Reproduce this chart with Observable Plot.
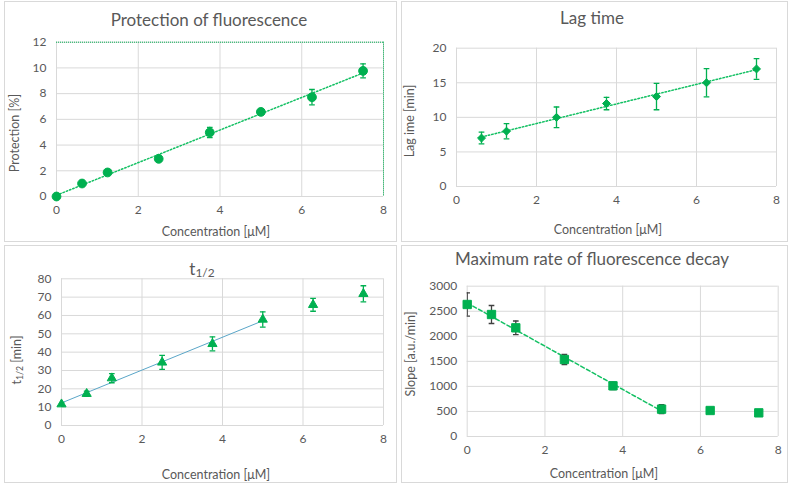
<!DOCTYPE html>
<html>
<head>
<meta charset="utf-8">
<script src="https://cdn.jsdelivr.net/npm/d3@7"></script>
<script src="https://cdn.jsdelivr.net/npm/@observablehq/plot@0.6"></script>
<style>
  body { margin: 0; background: #fff; }
  #chart { position: relative; width: 793px; height: 488px; overflow: hidden;
           font-family: Lato, "Open Sans", sans-serif; color: #595959; background: #fff; }
  .box { position: absolute; border: 1px solid #d9d9d9; box-sizing: border-box; }
  .plot { position: absolute; }
  .txt { position: absolute; white-space: nowrap; transform: translate(-50%, -50%); line-height: 1; }
  .title { font-size: 17px; }
  .lab { font-size: 12.5px; }
  .ylab { transform: translate(-50%, -50%) rotate(-90deg); }
  sub { font-size: 0.7em; vertical-align: -0.25em; line-height: 0; }
</style>
</head>
<body>
<div id="chart"></div>
<script>
// Concentrations tested [µM]
const conc = [0, 0.625, 1.25, 2.5, 3.75, 5, 6.25, 7.5];
const lagConc = [0.625, 1.25, 2.5, 3.75, 5, 6.25, 7.5];

// Protection of fluorescence [%] with standard deviations
const protection = [0, 1.01, 1.87, 2.93, 4.98, 6.58, 7.72, 9.77];
const protectionErr = [0.1, 0.1, 0.1, 0.12, 0.4, 0.1, 0.6, 0.55];

// Lag time [min]
const lagTime = [7, 8, 10, 12, 13, 15, 17];
const lagErr = [0.85, 1.1, 1.5, 0.9, 1.9, 2.05, 1.5];

// Half-life t1/2 [min]
const halfLife = [11.6, 17.3, 25.8, 34.4, 44.5, 57.8, 65.8, 71.8];
const halfLifeErr = [1, 1.4, 2.5, 3.8, 3.8, 4.2, 3.5, 4.4];

// Maximum rate of fluorescence decay [a.u./min]
const slope = [2635, 2435, 2169, 1537, 1011, 546, 519, 472];
const slopeErr = [233, 180, 136, 100, 73, 90, 30, 30];

// Axis ticks
const xTicks = [0, 2, 4, 6, 8];
const protectionTicks = [0, 2, 4, 6, 8, 10, 12];
const lagTicks = [0, 5, 10, 15, 20];
const halfLifeTicks = [0, 10, 20, 30, 40, 50, 60, 70, 80];
const slopeTicks = [0, 500, 1000, 1500, 2000, 2500, 3000];

// Linear fits for t1/2 and slope only use concentrations up to this value
const fitUpTo = 5;

const GREEN = "#00b050";
const GRID = "#d9d9d9";
const TEXT = "#595959";

const rows = (xs, ys, es) => xs.map((x, i) => ({x, y: ys[i], e: es[i]}));

// Horizontal line used as the error-bar cap
const cap = {draw(ctx, size) { const w = Math.sqrt(size) / 2; ctx.moveTo(-w, 0); ctx.lineTo(w, 0); }};

const chart = document.getElementById("chart");

function addText(html, x, y, cls) {
  const el = document.createElement("div");
  el.className = "txt " + cls;
  el.innerHTML = html;
  el.style.left = x + "px";
  el.style.top = y + "px";
  chart.append(el);
}

function panel(p) {
  const box = document.createElement("div");
  box.className = "box";
  Object.assign(box.style, {left: p.left + "px", top: p.top + "px", width: p.width + "px", height: p.height + "px"});
  chart.append(box);

  const data = p.data;
  const fit = p.fitFilter ? data.filter(p.fitFilter) : data;
  const errColor = p.errColor || GREEN;
  const marks = [
    Plot.gridX(xTicks, {stroke: GRID, strokeOpacity: 1, strokeWidth: 1}),
    Plot.gridY(p.yTicks, {stroke: GRID, strokeOpacity: 1, strokeWidth: 1}),
    Plot.axisX(xTicks, {tickSize: 0, tickPadding: 9, fill: TEXT, fontSize: 12, label: null, tickFormat: String}),
    Plot.axisY(p.yTicks, {tickSize: 0, tickPadding: 10, fill: TEXT, fontSize: 12, label: null, tickFormat: String}),
    ...(p.extra || []),
    Plot.linearRegressionY(fit, {x: "x", y: "y", ci: 0, stroke: p.fitColor, strokeWidth: p.fitWidth,
                                 strokeDasharray: p.fitDash}),
    Plot.ruleX(data, {x: "x", y1: d => d.y - d.e, y2: d => d.y + d.e, stroke: errColor,
                      strokeWidth: 1.3, clip: true}),
    Plot.dot(data, {x: "x", y: d => d.y + d.e, symbol: cap, r: 3.2, stroke: errColor, fill: "none",
                    strokeWidth: 1.3, clip: true}),
    Plot.dot(data, {x: "x", y: d => d.y - d.e, symbol: cap, r: 3.2, stroke: errColor, fill: "none",
                    strokeWidth: 1.3, clip: true}),
    Plot.dot(data, {x: "x", y: "y", symbol: p.symbol, r: p.r, fill: GREEN, stroke: GREEN, strokeWidth: 1})
  ];

  const svg = Plot.plot({
    width: p.width,
    height: p.height,
    marginLeft: p.plotLeft - p.left,
    marginRight: p.left + p.width - p.plotRight,
    marginTop: p.plotTop - p.top,
    marginBottom: p.top + p.height - p.plotBottom,
    style: {fontFamily: "Lato, 'Open Sans', sans-serif", fontSize: "12px", color: TEXT, background: "transparent", overflow: "visible"},
    x: {domain: [0, 8]},
    y: {domain: p.yDomain},
    marks
  });
  svg.classList.add("plot");
  svg.style.left = p.left + "px";
  svg.style.top = p.top + "px";
  chart.append(svg);

  addText(p.title, p.titleX, p.titleY, "title");
  addText("Concentration [μM]", p.xLabX, p.xLabY, "lab");
  addText(p.yLabel, p.yLabX, p.yLabY, "lab ylab");
}

// Top left: protection of fluorescence
panel({
  left: 4, top: 1, width: 393, height: 241,
  plotLeft: 56, plotRight: 383, plotTop: 41.7, plotBottom: 196,
  data: rows(conc, protection, protectionErr), yDomain: [0, 12], yTicks: protectionTicks,
  symbol: "circle", r: 4.4,
  fitColor: "#13c063", fitWidth: 1.5, fitDash: "1.5,2",
  extra: [
    Plot.ruleY([12], {stroke: GREEN, strokeWidth: 1, strokeDasharray: "1,1"}),
    Plot.ruleX([8], {stroke: GREEN, strokeWidth: 1, strokeDasharray: "1,1"})
  ],
  title: "Protection of fluorescence", titleX: 209, titleY: 19,
  xLabX: 216, xLabY: 232,
  yLabel: "Protection [%]", yLabX: 15, yLabY: 133
});

// Top right: lag time
panel({
  left: 401, top: 1, width: 387, height: 241,
  plotLeft: 456, plotRight: 776, plotTop: 47.7, plotBottom: 186,
  data: rows(lagConc, lagTime, lagErr), yDomain: [0, 20], yTicks: lagTicks,
  symbol: "diamond2", r: 3.6,
  fitColor: "#13c063", fitWidth: 1.5, fitDash: "1.5,2",
  title: "Lag time", titleX: 592, titleY: 17,
  xLabX: 608, xLabY: 230,
  yLabel: "Lag ime [min]", yLabX: 410, yLabY: 121
});

// Bottom left: half-life
panel({
  left: 4, top: 245, width: 393, height: 238,
  plotLeft: 61, plotRight: 383, plotTop: 278.3, plotBottom: 425,
  data: rows(conc, halfLife, halfLifeErr), yDomain: [0, 80], yTicks: halfLifeTicks,
  symbol: "triangle", r: 3.4, fitFilter: d => d.x <= fitUpTo,
  fitColor: "#5aa6c8", fitWidth: 1, fitDash: null,
  title: "t<sub>1/2</sub>", titleX: 202, titleY: 268,
  xLabX: 216, xLabY: 475,
  yLabel: "t<sub>1/2</sub> [min]", yLabX: 16.7, yLabY: 360
});

// Bottom right: maximum rate of fluorescence decay
panel({
  left: 401, top: 245, width: 387, height: 238,
  plotLeft: 466.7, plotRight: 777.7, plotTop: 285.7, plotBottom: 436,
  data: rows(conc, slope, slopeErr), yDomain: [0, 3000], yTicks: slopeTicks,
  symbol: "square", r: 4.7, fitFilter: d => d.x <= fitUpTo, errColor: "#404040",
  fitColor: "#13c063", fitWidth: 1.5, fitDash: "4,2.5",
  title: "Maximum rate of fluorescence decay", titleX: 592, titleY: 258,
  xLabX: 604, xLabY: 474,
  yLabel: "Slope [a.u./min]", yLabX: 410.7, yLabY: 354
});
</script>
</body>
</html>
